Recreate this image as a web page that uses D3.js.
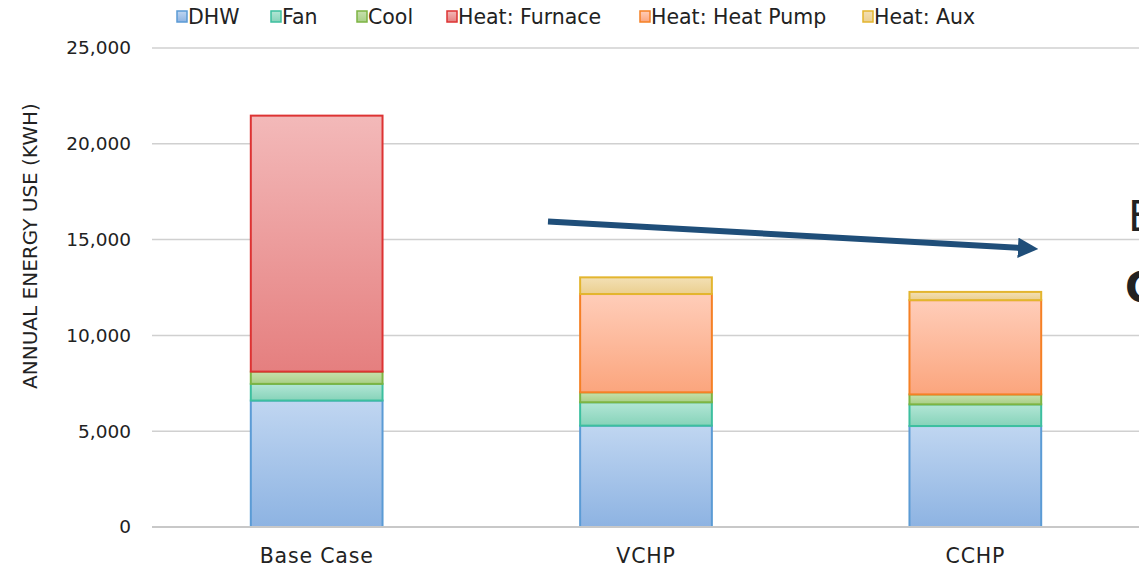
<!DOCTYPE html>
<html>
<head>
<meta charset="utf-8">
<script src="https://cdn.jsdelivr.net/npm/d3@7"></script>
<style>
body { margin: 0; background: #fff; overflow: hidden; }
text { font-family: "DejaVu Sans", sans-serif; fill: #222; }
</style>
</head>
<body>
<div id="chart"></div>
<script>
var categories = ["Base Case", "VCHP", "CCHP"];
var series = ["DHW", "Fan", "Cool", "Heat: Furnace", "Heat: Heat Pump", "Heat: Aux"];
var dhw = [6600, 5290, 5270];
var fan = [870, 1220, 1130];
var cool = [640, 520, 520];
var furnace = [13360, 0, 0];
var heatPump = [0, 5130, 4920];
var aux = [0, 870, 430];
var yTicks = [0, 5000, 10000, 15000, 20000, 25000];

var fills = [
  ["#c0d6f1", "#8db3e2", "#5b9bd5"],
  ["#b3e6d6", "#86d3b9", "#3cbf9f"],
  ["#c8e0ae", "#a8cf86", "#7db443"],
  ["#f3b9b9", "#e57f7f", "#dd3333"],
  ["#ffcdb9", "#fba57d", "#f58025"],
  ["#f3e0b5", "#ebcf8f", "#e3b52e"]
];

var W = 1139, H = 577;
var margin = {top: 48, right: 0, bottom: 50, left: 152};
var width = 988, height = 479;

var svg = d3.select("#chart").append("svg")
  .attr("width", W).attr("height", H);

var defs = svg.append("defs");
fills.forEach(function(f, i) {
  var g = defs.append("linearGradient").attr("id", "g" + i)
    .attr("x1", 0).attr("y1", 0).attr("x2", 0).attr("y2", 1);
  g.append("stop").attr("offset", "0%").attr("stop-color", f[0]);
  g.append("stop").attr("offset", "100%").attr("stop-color", f[1]);
});

var g = svg.append("g")
  .attr("transform", "translate(" + margin.left + "," + margin.top + ")");

var x = d3.scaleBand().domain(categories).range([0, width]).paddingInner(0.6).paddingOuter(0.3);
var y = d3.scaleLinear().domain([0, 25000]).range([height, 0]);

// grid
g.selectAll(".grid").data(yTicks.slice(1)).enter().append("line")
  .attr("x1", 0).attr("x2", width)
  .attr("y1", function(d) { return y(d); }).attr("y2", function(d) { return y(d); })
  .attr("stroke", "#d0d0d0").attr("stroke-width", 1.5);

var yAxis = g.append("g").call(d3.axisLeft(y).tickValues(yTicks).tickFormat(d3.format(",")).tickSize(0).tickPadding(21));
yAxis.select(".domain").remove();
yAxis.selectAll("text").attr("font-size", 18.5).attr("font-family", "DejaVu Sans").attr("fill", "#222");

var table = categories.map(function(c, i) {
  return {cat: c, DHW: dhw[i], Fan: fan[i], Cool: cool[i],
    "Heat: Furnace": furnace[i], "Heat: Heat Pump": heatPump[i], "Heat: Aux": aux[i]};
});
var stack = d3.stack().keys(series)(table);

g.selectAll(".layer").data(stack).enter().append("g")
  .each(function(layer, i) {
    d3.select(this).selectAll("rect").data(layer.filter(function(d) { return d[1] - d[0] > 0; }))
      .enter().append("rect")
      .attr("x", function(d) { return x(d.data.cat); })
      .attr("width", x.bandwidth())
      .attr("y", function(d) { return y(d[1]); })
      .attr("height", function(d) { return y(d[0]) - y(d[1]); })
      .attr("fill", "url(#g" + i + ")")
      .attr("stroke", fills[i][2]).attr("stroke-width", 2);
  });

// baseline
g.append("line").attr("x1", 0).attr("x2", width).attr("y1", height).attr("y2", height)
  .attr("stroke", "#c8c8c8").attr("stroke-width", 2);

var xAxis = g.append("g").attr("transform", "translate(0," + height + ")")
  .call(d3.axisBottom(x).tickSize(0).tickPadding(21));
xAxis.select(".domain").remove();
xAxis.selectAll("text").attr("font-size", 20.5).attr("letter-spacing", 0.8)
  .attr("font-family", "DejaVu Sans").attr("fill", "#222");

svg.append("text")
  .attr("transform", "translate(37,246) rotate(-90)")
  .attr("text-anchor", "middle").attr("font-size", 20)
  .attr("fill", "#333")
  .text("ANNUAL ENERGY USE (KWH)");

// legend
var legX = [177, 271, 357, 447, 640, 863];
var leg = svg.selectAll(".leg").data(series).enter().append("g")
  .attr("transform", function(d, i) { return "translate(" + legX[i] + ",11)"; });
leg.append("rect").attr("width", 10).attr("height", 11)
  .attr("fill", function(d, i) { return "url(#g" + i + ")"; })
  .attr("stroke", function(d, i) { return fills[i][2]; }).attr("stroke-width", 1.5);
leg.append("text").attr("x", 11).attr("y", 13).attr("font-size", 20.5).text(function(d) { return d; });

// arrow
defs.append("marker").attr("id", "ah").attr("viewBox", "0 0 10 10")
  .attr("refX", 2).attr("refY", 5).attr("markerWidth", 3.4).attr("markerHeight", 3.4)
  .attr("orient", "auto")
  .append("path").attr("d", "M0,0 L10,5 L0,10 Z").attr("fill", "#1f4e79");
svg.append("line").attr("x1", 548).attr("y1", 221.5).attr("x2", 1022).attr("y2", 248)
  .attr("stroke", "#1f4e79").attr("stroke-width", 6).attr("marker-end", "url(#ah)");

// side text cut off by the frame, as in the reference
svg.append("text").attr("x", 1128).attr("y", 231).attr("font-size", 42)
  .attr("font-family", "Liberation Sans Narrow, Liberation Sans").attr("fill", "#111").text("E");
svg.append("text").attr("x", 1125).attr("y", 302).attr("font-size", 42).attr("font-weight", "bold")
  .attr("font-family", "Liberation Sans Narrow, Liberation Sans").attr("fill", "#111").text("C");
</script>
</body>
</html>
